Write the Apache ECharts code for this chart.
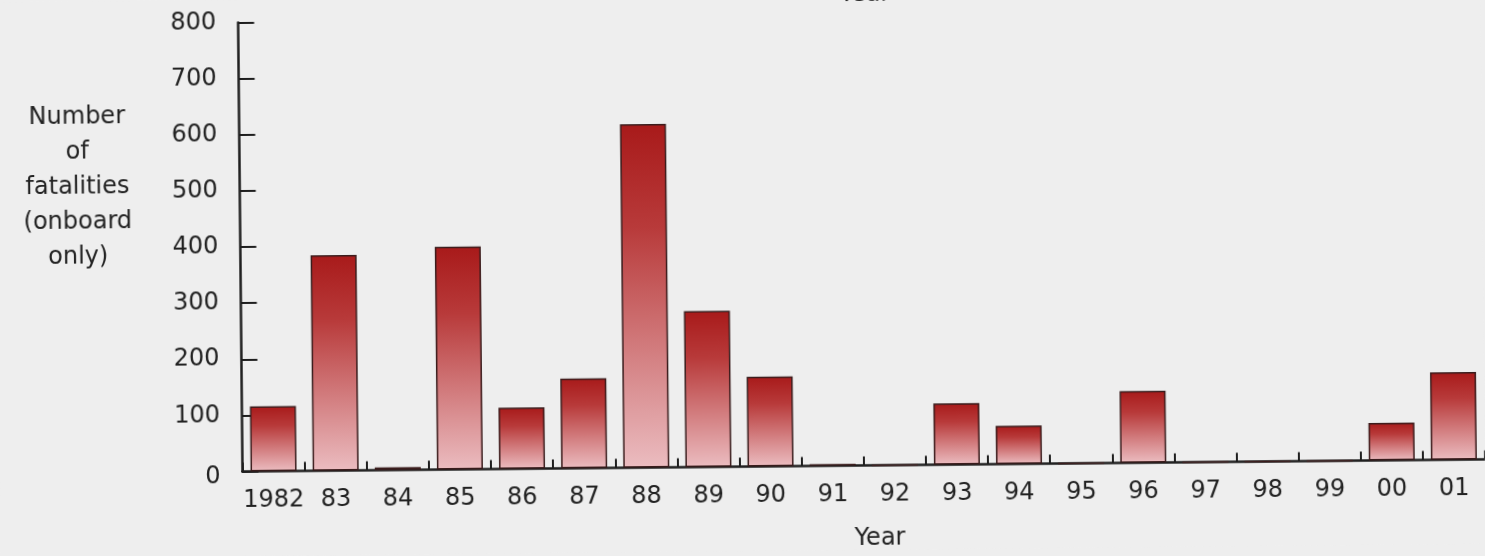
<!DOCTYPE html>
<html>
<head>
<meta charset="utf-8">
<title>Number of fatalities (onboard only) by year</title>
<script src="https://cdn.jsdelivr.net/npm/echarts@6/dist/echarts.min.js"></script>
<style>
  html, body { margin: 0; padding: 0; background: #eeeeee; overflow: hidden; }
  #chart {
    width: 1485px; height: 556px;
    /* the printed page sits slightly askew */
    transform: rotate(-0.56deg);
    transform-origin: 242.5px 471.5px;
  }
</style>
</head>
<body>
<div id="chart"></div>
<script>
// Years shown on the category axis
const years = ['1982', '83', '84', '85', '86', '87', '88', '89', '90', '91',
               '92', '93', '94', '95', '96', '97', '98', '99', '00', '01'];
// Onboard fatalities per year
const fatalities = [116, 384, 5, 397, 109, 160, 612, 278, 160, 3,
                    0, 109, 68, 0, 128, 0, 0, 0, 67, 156];
// Value axis range and step
const yMin = 0;
const yMax = 800;
const yStep = 100;
// Axis titles
const yTitle = 'Number\nof\nfatalities\n(onboard\nonly)';
const xTitle = 'Year';

const FONT = '"DejaVu Sans", sans-serif';
const INK = '#222222';

const chart = echarts.init(document.getElementById('chart'), null, { renderer: 'canvas' });

chart.setOption({
  backgroundColor: '#eeeeee',
  animation: false,
  grid: { left: 242.5, top: 22.5, width: 1250, height: 449, containLabel: false },
  xAxis: {
    type: 'category',
    data: years,
    axisLine: { show: true, lineStyle: { color: '#1e1e1e', width: 2.5 } },
    axisTick: { show: true, inside: true, length: 9, lineStyle: { color: '#1e1e1e', width: 2 } },
    axisLabel: { interval: 0, margin: 17, color: INK, fontSize: 24, fontFamily: FONT },
    splitLine: { show: false }
  },
  yAxis: {
    type: 'value',
    min: yMin, max: yMax, interval: yStep,
    axisLine: { show: true, lineStyle: { color: '#1e1e1e', width: 2.5 } },
    axisTick: { show: true, inside: true, length: 16, lineStyle: { color: '#1e1e1e', width: 2 } },
    axisLabel: {
      margin: 22, color: INK, fontSize: 24, fontFamily: FONT,
      formatter: v => v === 0 ? '{z|0}' : String(v),
      rich: { z: { color: INK, fontSize: 24, fontFamily: FONT, padding: [10, 0, 0, 0] } }
    },
    splitLine: { show: false }
  },
  series: [{
    type: 'bar',
    data: fatalities,
    barWidth: 46,
    itemStyle: {
      color: new echarts.graphic.LinearGradient(0, 0, 0, 1, [
        { offset: 0, color: '#a81a1a' },
        { offset: 0.3, color: '#b83a3a' },
        { offset: 1, color: '#ebbcc0' }
      ]),
      borderColor: '#3a1c1c',
      borderWidth: 1.5
    }
  }],
  graphic: [
    {
      type: 'text', x: 80.3, y: 185.9,
      style: {
        text: yTitle, fill: INK, font: '24px ' + FONT,
        textAlign: 'center', textVerticalAlign: 'middle', lineHeight: 35
      }
    },
    {
      type: 'text', x: 879.3, y: 545.2,
      style: {
        text: xTitle, fill: INK, font: '24px ' + FONT,
        textAlign: 'center', textVerticalAlign: 'middle'
      }
    },
    {
      // axis title of the figure printed above, cut by the page edge
      type: 'text', x: 869.5, y: 12.5,
      style: {
        text: xTitle, fill: INK, font: '24px ' + FONT,
        textAlign: 'center', textVerticalAlign: 'bottom'
      }
    }
  ]
});
</script>
</body>
</html>
